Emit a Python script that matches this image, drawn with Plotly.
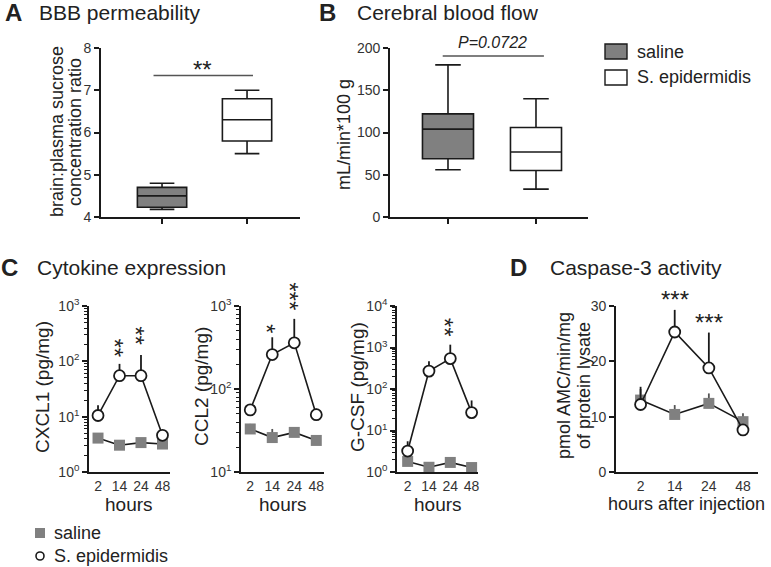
import math
import plotly.graph_objects as go

W, H = 771, 567
FONT = "Liberation Sans, Arial, sans-serif"
INK = "#1a1a1a"
GRAY = "#808080"

# ---------------- data ----------------
groups = ["saline", "S. epidermidis"]
# Panel A: BBB permeability box stats (min, q1, median, q3, max)
bbb_saline = [4.18, 4.23, 4.5, 4.7, 4.8]
bbb_epi = [5.5, 5.8, 6.3, 6.8, 7.0]
# Panel B: cerebral blood flow box stats
cbf_saline = [56, 69, 104, 122, 180]
cbf_epi = [33, 55, 77, 106, 140]

hours = ["2", "14", "24", "48"]
# Panel C: cytokines (mean, upper error end)
cxcl1_saline = [4.1, 3.05, 3.4, 3.2]
cxcl1_saline_top = [4.6, 3.2, 3.6, 3.4]
cxcl1_epi = [10.5, 55, 55, 4.6]
cxcl1_epi_top = [16, 90, 130, 5.3]

ccl2_saline = [33, 26, 30, 24]
ccl2_saline_top = [38, 33, 33, 25]
ccl2_epi = [56, 260, 360, 49]
ccl2_epi_top = [60, 420, 700, 58]

gcsf_saline = [1.8, 1.3, 1.7, 1.28]
gcsf_saline_top = [2.0, 1.55, 1.9, 1.35]
gcsf_epi = [3.2, 270, 540, 27]
gcsf_epi_top = [5.5, 465, 1170, 53]

# Panel D: caspase-3 activity
casp_saline = [13.0, 10.4, 12.4, 9.1]
casp_saline_top = [15.0, 12.1, 14.2, 10.6]
casp_epi = [12.2, 25.3, 18.8, 7.6]
casp_epi_top = [15.4, 29.3, 25.2, 8.2]

# significance labels: (panel, hour, value, text)
sig_c = [("3", "14", 175, "**"), ("3", "24", 285, "**"),
         ("4", "14", 540, "*"), ("4", "24", 1300, "***"),
         ("5", "24", 3100, "**")]
sig_d = [("14", 32.0, "***"), ("24", 28.0, "***")]


def px(x):
    return x / W


def py(y):
    return 1 - y / H


fig = go.Figure()

axis_common = dict(
    showline=True, linecolor=INK, linewidth=1.6, ticks="outside", ticklen=5,
    tickwidth=1.6, tickcolor=INK, showgrid=False, zeroline=False,
    automargin=False,
    tickfont=dict(family=FONT, size=14, color="#333333"), fixedrange=True,
)


def box(stats, pos, fill, xa, ya, name):
    fig.add_trace(go.Box(
        x=[pos], lowerfence=[stats[0]], q1=[stats[1]], median=[stats[2]],
        q3=[stats[3]], upperfence=[stats[4]], fillcolor=fill,
        line=dict(color=INK, width=1.6), width=0.58, whiskerwidth=0.5,
        boxpoints=False, xaxis=xa, yaxis=ya, showlegend=False, name=name,
        hoverinfo="skip",
    ))


box(bbb_saline, 0, GRAY, "x", "y", groups[0])
box(bbb_epi, 1, "white", "x", "y", groups[1])
box(cbf_saline, 0, GRAY, "x2", "y2", groups[0])
box(cbf_epi, 1, "white", "x2", "y2", groups[1])


def series(xa, ya, sal, sal_top, epi, epi_top):
    fig.add_trace(go.Scatter(
        x=hours, y=sal, mode="lines+markers", xaxis=xa, yaxis=ya,
        line=dict(color=INK, width=1.6),
        marker=dict(symbol="square", size=11, color=GRAY, line=dict(width=0)),
        error_y=dict(type="data", symmetric=False,
                     array=[t - v for t, v in zip(sal_top, sal)],
                     arrayminus=[0] * 4, width=0, thickness=1.8, color="#555555"),
        showlegend=False, name=groups[0], cliponaxis=False,
    ))
    fig.add_trace(go.Scatter(
        x=hours, y=epi, mode="lines+markers", xaxis=xa, yaxis=ya,
        line=dict(color=INK, width=1.6),
        marker=dict(symbol="circle", size=11, color="white",
                    line=dict(color=INK, width=1.8)),
        error_y=dict(type="data", symmetric=False,
                     array=[t - v for t, v in zip(epi_top, epi)],
                     arrayminus=[0] * 4, width=0, thickness=1.8, color=INK),
        showlegend=False, name=groups[1], cliponaxis=False,
    ))


series("x3", "y3", cxcl1_saline, cxcl1_saline_top, cxcl1_epi, cxcl1_epi_top)
series("x4", "y4", ccl2_saline, ccl2_saline_top, ccl2_epi, ccl2_epi_top)
series("x5", "y5", gcsf_saline, gcsf_saline_top, gcsf_epi, gcsf_epi_top)
series("x6", "y6", casp_saline, casp_saline_top, casp_epi, casp_epi_top)


def dom_x(a, b):
    return [px(a), px(b)]


def dom_y(top, bottom):
    return [py(bottom), py(top)]


def logaxis(lo, hi):
    vals = [10 ** e for e in range(lo, hi + 1)]
    minors = [k * 10 ** e for e in range(lo, hi) for k in range(2, 10)]
    return dict(
        type="log", range=[lo, hi], tickmode="array", tickvals=vals,
        ticktext=["10<sup>%d</sup>" % e for e in range(lo, hi + 1)],
        minor=dict(tickmode="array", tickvals=minors, ticks="outside",
                   ticklen=3, tickwidth=1, tickcolor=INK),
        **axis_common,
    )


xr_c = [-0.42, 3.35]
xr_g = [-0.5, 3.3]
xr_d = [-0.72, 3.44]
cat_common = dict(axis_common)
cat_common["ticks"] = ""
cat_x = dict(type="category", tickmode="array", tickvals=hours, ticktext=hours,
             **cat_common)

yr = {"3": (0, 3), "4": (1, 3), "5": (0, 4)}
xr = {"3": xr_c, "4": xr_c, "5": xr_g}

layout_axes = dict(
    xaxis=dict(domain=dom_x(101, 300), range=[-0.718, 1.623], tickmode="array",
               tickvals=[0, 1], ticktext=["", ""], anchor="y", **axis_common),
    yaxis=dict(domain=dom_y(48, 217), range=[4, 8], dtick=1, anchor="x",
               **axis_common),
    xaxis2=dict(domain=dom_x(390, 588), range=[-0.659, 1.591], tickmode="array",
                tickvals=[0, 1], ticktext=["", ""], anchor="y2", **axis_common),
    yaxis2=dict(domain=dom_y(48, 217), range=[0, 200], dtick=50, anchor="x2",
                **axis_common),
    xaxis3=dict(domain=dom_x(89, 170), range=xr_c, anchor="y3", **cat_x),
    yaxis3=dict(domain=dom_y(306, 472), anchor="x3", **logaxis(*yr["3"])),
    xaxis4=dict(domain=dom_x(241, 324), range=xr_c, anchor="y4", **cat_x),
    yaxis4=dict(domain=dom_y(306, 472), anchor="x4", **logaxis(*yr["4"])),
    xaxis5=dict(domain=dom_x(397, 478), range=xr_g, anchor="y5", **cat_x),
    yaxis5=dict(domain=dom_y(306, 472), anchor="x5", **logaxis(*yr["5"])),
    xaxis6=dict(domain=dom_x(616, 758), range=xr_d, anchor="y6", **cat_x),
    yaxis6=dict(domain=dom_y(306, 472), range=[0, 30], dtick=10, anchor="x6",
                **axis_common),
)

ann = []


def text(x, y, s, size=18, xanchor="center", yanchor="middle", angle=0,
         bold=False, color="#222222"):
    if bold:
        s = "<b>%s</b>" % s
    ann.append(dict(x=px(x), y=py(y), xref="paper", yref="paper", text=s,
                    showarrow=False, xanchor=xanchor, yanchor=yanchor,
                    textangle=angle, font=dict(family=FONT, size=size, color=color)))


# panel titles
text(13, 13, "A", size=24, bold=True)
text(37, 13, "BBB permeability", size=21, xanchor="left")
text(327, 13, "B", size=24, bold=True)
text(355, 13, "Cerebral blood flow", size=21, xanchor="left")
text(9, 267, "C", size=24, bold=True)
text(35, 267, "Cytokine expression", size=21, xanchor="left")
text(518, 267, "D", size=24, bold=True)
text(548, 267, "Caspase-3 activity", size=21, xanchor="left")

# axis titles
text(57, 132, "brain:plasma sucrose", size=18, angle=-90)
text(75, 132, "concentration ratio", size=18, angle=-90)
text(344, 135, "mL/min*100 g", size=18, angle=-90)
text(42, 387, "CXCL1 (pg/mg)", size=19, angle=-90)
text(201, 387, "CCL2 (pg/mg)", size=19, angle=-90)
text(357, 387, "G-CSF (pg/mg)", size=19, angle=-90)
text(564, 386, "pmol AMC/min/mg", size=18, angle=-90)
text(584, 386, "of protein lysate", size=18, angle=-90)
text(129, 504, "hours", size=19)
text(283, 504, "hours", size=19)
text(438, 504, "hours", size=19)
text(686, 504, "hours after injection", size=18)

# legend B
text(635, 52, "saline", size=18, xanchor="left")
text(635, 77, "S. epidermidis", size=18, xanchor="left")
# legend C
text(52, 533, "saline", size=18, xanchor="left")
text(52, 556, "S. epidermidis", size=18, xanchor="left")


def dom_frac(v, r):
    return (v - r[0]) / (r[1] - r[0])


def star(axid, fx, fy, s, angle=0, size=24, xshift=0, yshift=0):
    ann.append(dict(x=fx, y=fy, xref="x%s domain" % axid,
                    yref="y%s domain" % axid, text=s, showarrow=False,
                    xanchor="center", yanchor="middle",
                    textangle=angle, xshift=xshift, yshift=yshift,
                    font=dict(family=FONT, size=size, color="#222222")))


# significance marks
star("", dom_frac(0.48, [-0.718, 1.623]), dom_frac(7.6, [4, 8]), "**", yshift=-5)
for ax, hr, val, s in sig_c:
    star(ax, dom_frac(hours.index(hr), xr[ax]),
         dom_frac(math.log10(val), yr[ax]), s, angle=90, xshift=-5)
for hr, val, s in sig_d:
    star("6", dom_frac(hours.index(hr), xr_d), dom_frac(val, [0, 30]), s,
         yshift=-5)
ann.append(dict(x=dom_frac(0.51, [-0.659, 1.591]), y=dom_frac(206, [0, 200]),
                xref="x2 domain", yref="y2 domain", text="<i>P=0.0722</i>",
                xanchor="center", yanchor="middle",
                showarrow=False, font=dict(family=FONT, size=16, color="#222222")))

shapes = [
    dict(type="line", xref="x", yref="y", x0=-0.1, x1=1.07, y0=7.35, y1=7.35,
         line=dict(color="#555555", width=1.4)),
    dict(type="line", xref="x2", yref="y2", x0=-0.06, x1=1.09, y0=190.5, y1=190.5,
         line=dict(color="#555555", width=1.4)),
    # legend keys B
    dict(type="rect", xref="paper", yref="paper", x0=px(605), x1=px(627),
         y0=py(59), y1=py(44), fillcolor=GRAY, line=dict(color=INK, width=1.4)),
    dict(type="rect", xref="paper", yref="paper", x0=px(605), x1=px(627),
         y0=py(85), y1=py(70), fillcolor="white", line=dict(color=INK, width=1.4)),
    # legend keys C
    dict(type="rect", xref="paper", yref="paper", x0=px(35), x1=px(45),
         y0=py(538), y1=py(528), fillcolor=GRAY, line=dict(width=0)),
    dict(type="circle", xref="paper", yref="paper", x0=px(36), x1=px(44),
         y0=py(560), y1=py(552), fillcolor="white", line=dict(color=INK, width=1.6)),
]

fig.update_layout(
    template="none",
    width=W, height=H, margin=dict(l=0, r=0, t=0, b=0, pad=0),
    paper_bgcolor="white", plot_bgcolor="white", showlegend=False,
    font=dict(family=FONT, color="#222222"), hovermode=False,
    annotations=ann, shapes=shapes, **layout_axes,
)

fig.write_html("out.html", config={"displayModeBar": False},
               post_script="document.body.style.margin='0px';"
                           "document.body.style.overflow='hidden';")
